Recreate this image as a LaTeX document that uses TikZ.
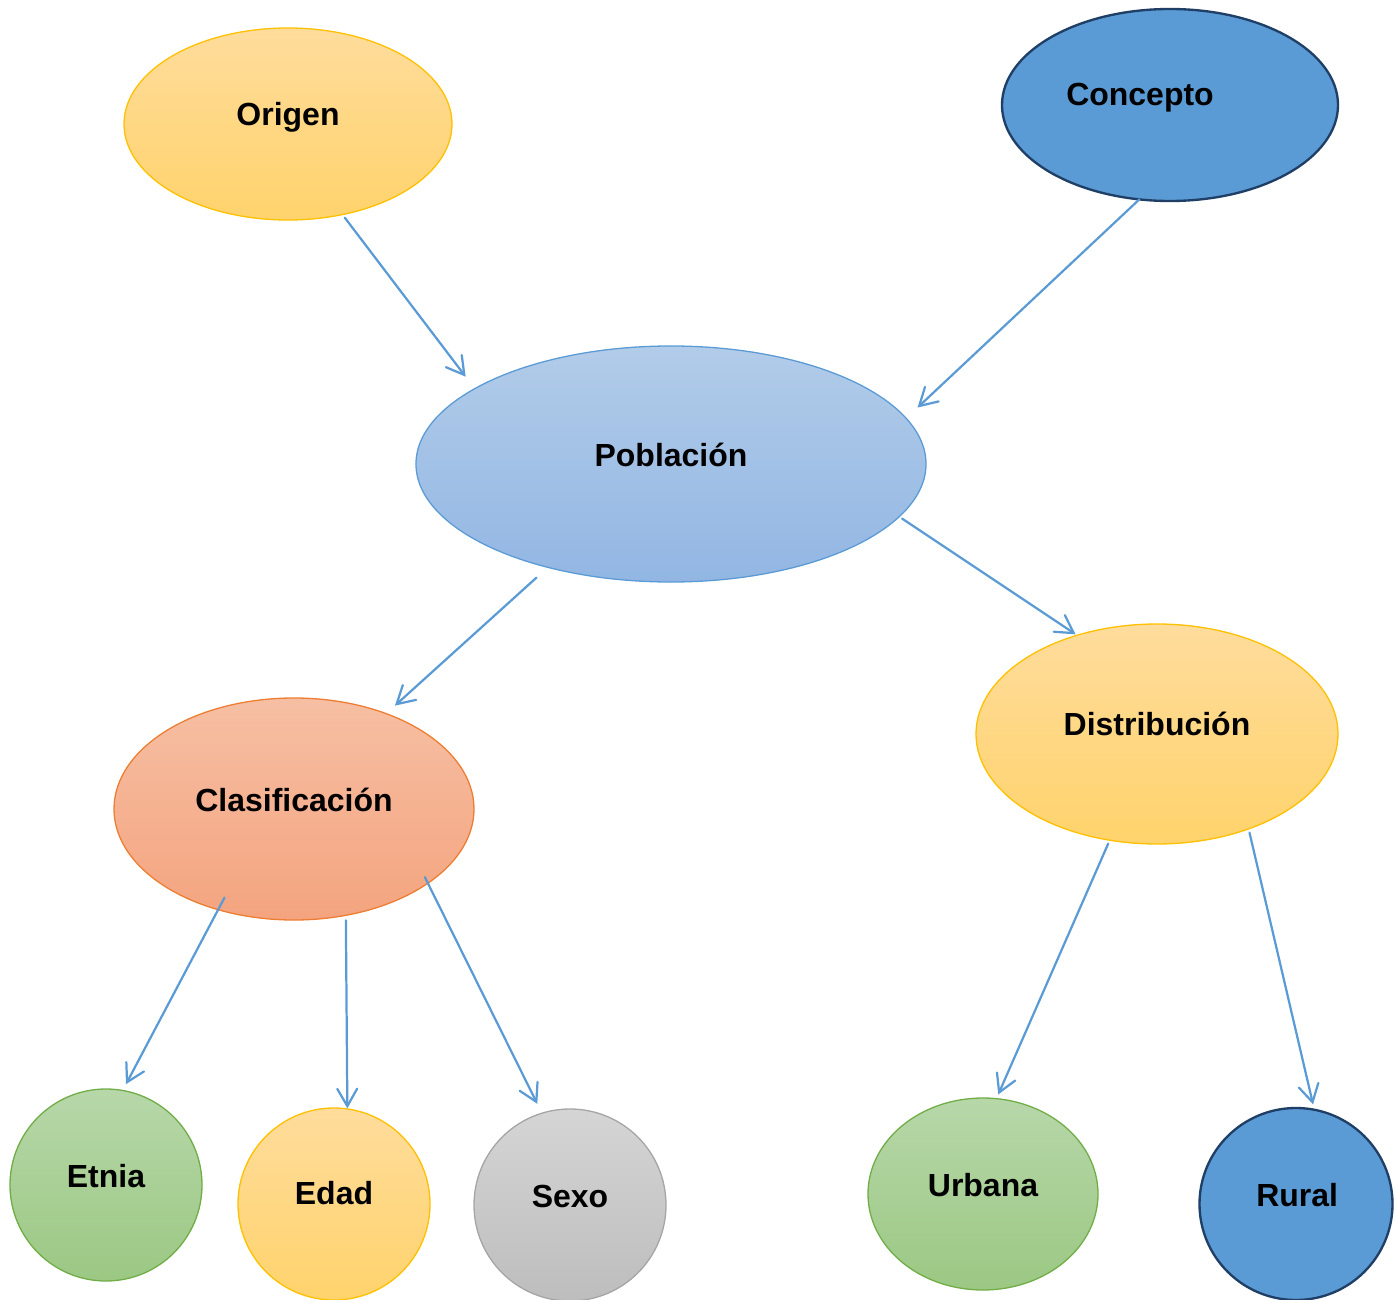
\documentclass[tikz,border=0pt]{standalone}
\usepackage{fontspec}
\setmainfont{Liberation Sans}
\usetikzlibrary{shapes.geometric,arrows.meta}
\definecolor{orTop}{HTML}{FFDC9C}
\definecolor{orBot}{HTML}{FFD36C}
\definecolor{orLine}{HTML}{FFC000}
\definecolor{blFill}{HTML}{5B9BD5}
\definecolor{blDark}{HTML}{203F66}
\definecolor{pbTop}{HTML}{B2CCE9}
\definecolor{pbBot}{HTML}{92B6E3}
\definecolor{clTop}{HTML}{F6BFA3}
\definecolor{clBot}{HTML}{F4A47F}
\definecolor{clLine}{HTML}{ED7D31}
\definecolor{grTop}{HTML}{B7D7A9}
\definecolor{grBot}{HTML}{9BC883}
\definecolor{grLine}{HTML}{70AD47}
\definecolor{gyTop}{HTML}{D5D5D5}
\definecolor{gyBot}{HTML}{BDBDBD}
\definecolor{gyLine}{HTML}{A5A5A5}
\definecolor{arrCol}{HTML}{5B9BD5}
\newcommand{\shtext}[3]{\raisebox{#2}{\hspace*{#1}#3}}
\tikzset{
  bub/.style={ellipse, inner sep=0pt, outer sep=0pt, text height=19.6pt, text depth=0pt,
    font=\bfseries\fontsize{27.3}{32}\selectfont, line width=1.1pt},
  orangeb/.style={bub, draw=orLine, top color=orTop, bottom color=orBot},
  blueb/.style={bub, draw=blDark, fill=blFill, line width=2pt},
  pobb/.style={bub, draw=blFill, top color=pbTop, bottom color=pbBot},
  clasb/.style={bub, draw=clLine, top color=clTop, bottom color=clBot},
  greenb/.style={bub, draw=grLine, top color=grTop, bottom color=grBot},
  grayb/.style={bub, draw=gyLine, top color=gyTop, bottom color=gyBot},
  arr/.style={draw=arrCol, line width=1.9pt, line cap=round,
    -{Straight Barb[length=14.8pt, width=17pt, line cap=round]}}
}
\begin{document}
\begin{tikzpicture}[x=0.03cm, y=-0.03cm]
\useasboundingbox (0,0) rectangle (1397,1300);
\node[orangeb, minimum width=9.84cm, minimum height=5.76cm] (origen) at (288,124) {\shtext{0pt}{8.5pt}{Origen}};
\node[blueb, minimum width=10.08cm, minimum height=5.76cm] (concepto) at (1170,105) {\shtext{-51.2pt}{9.4pt}{Concepto}};
\node[pobb, minimum width=15.3cm, minimum height=7.08cm] (poblacion) at (671,464) {\shtext{0pt}{7.7pt}{Población}};
\node[clasb, minimum width=10.8cm, minimum height=6.66cm] (clas) at (294,809) {\shtext{0pt}{7.7pt}{Clasificación}};
\node[orangeb, minimum width=10.86cm, minimum height=6.6cm] (dist) at (1157,734) {\shtext{0pt}{8.5pt}{Distribución}};
\node[greenb, minimum width=5.76cm, minimum height=5.76cm] (etnia) at (106,1185) {\shtext{0pt}{7.7pt}{Etnia}};
\node[orangeb, minimum width=5.76cm, minimum height=5.76cm] (edad) at (334,1204) {\shtext{0pt}{9.4pt}{Edad}};
\node[grayb, minimum width=5.76cm, minimum height=5.76cm] (sexo) at (570,1205) {\shtext{0pt}{7.7pt}{Sexo}};
\node[greenb, minimum width=6.9cm, minimum height=5.76cm] (urbana) at (983,1194) {\shtext{0pt}{7.7pt}{Urbana}};
\node[blueb, minimum width=5.79cm, minimum height=5.76cm] (rural) at (1296,1204) {\shtext{2pt}{7.7pt}{Rural}};
\draw[arr, shorten <=3.4pt, shorten >=12.8pt] (origen.301.5) -- (poblacion.159.6);
\draw[arr, shorten >=13.4pt] (concepto.252) -- (poblacion.11.2);
\draw[arr, shorten <=13.1pt, shorten >=10.2pt] (poblacion.220.5) -- (clas.46.9);
\draw[arr, shorten <=3pt, shorten >=1.5pt] (poblacion.347.5) -- (dist.129.1);
\draw[arr, shorten <=-11.7pt, shorten >=6.1pt] (clas.233.6) -- (etnia.80);
\draw[arr, shorten <=4.3pt, shorten >=0.5pt] (clas.296.1) -- (edad.82.8);
\draw[arr, shorten <=-5.8pt, shorten >=8.9pt] (clas.331.1) -- (sexo.107.2);
\draw[arr, shorten <=3.2pt, shorten >=3.9pt] (dist.246.9) -- (urbana.82.2);
\draw[arr, shorten <=3.3pt, shorten >=4.7pt] (dist.314.7) -- (rural.79.7);
\end{tikzpicture}
\end{document}
